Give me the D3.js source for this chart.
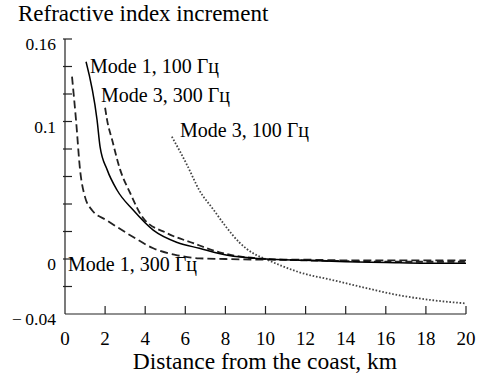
<!DOCTYPE html>
<html>
<head>
<meta charset="utf-8">
<script src="https://cdn.jsdelivr.net/npm/d3@7"></script>
<style>
  html, body { margin: 0; padding: 0; background: #fff; }
</style>
</head>
<body>
<svg id="chart" width="477" height="376"></svg>
<script>
// ---- data ----
const xTicks = [0, 2, 4, 6, 8, 10, 12, 14, 16, 18, 20];
const yTicks = [-0.04, -0.02, 0, 0.02, 0.04, 0.06, 0.08, 0.1, 0.12, 0.14, 0.16];
const yTickLabels = ["\u2212\u20090.04", "", "0", "", "", "", "", "0.1", "", "", "0.16"];

const mode1_100_x = [1.05, 1.6, 1.75, 2.1, 2.6, 3.4, 4.4, 5.6, 6.7, 8.1, 10, 12, 14, 16, 18, 20];
const mode1_100_y = [0.1435, 0.101, 0.0815, 0.065, 0.050, 0.0356, 0.021, 0.012, 0.0078, 0.0027, 0, -0.001, -0.002, -0.0025, -0.003, -0.003];

const mode3_300_x = [2.0, 2.1, 2.35, 2.75, 3.25, 3.9, 5.1, 6.4, 7.7, 10, 12, 14, 16, 18, 20];
const mode3_300_y = [0.110, 0.101, 0.0867, 0.065, 0.048, 0.0297, 0.0187, 0.0115, 0.0049, 0, -0.001, -0.0015, -0.002, -0.002, -0.002];

const mode1_300_x = [0.35, 0.55, 0.75, 1.0, 1.35, 2.1, 3.4, 4.4, 5.6, 6.7, 8, 10, 12, 14, 16, 18, 20];
const mode1_300_y = [0.1326, 0.101, 0.065, 0.045, 0.0355, 0.028, 0.016, 0.0078, 0.0027, 0.0005, 0, -0.0005, -0.0005, -0.001, -0.001, -0.001, -0.001];

const mode3_100_x = [5.33, 6.1, 6.7, 7.4, 8.0, 8.7, 9.4, 10, 11.7, 13.4, 15.1, 16.7, 18.35, 20];
const mode3_100_y = [0.089, 0.068, 0.050, 0.036, 0.024, 0.012, 0.004, 0, -0.0097, -0.0155, -0.0214, -0.0265, -0.030, -0.0323];

const seriesNames = ["Mode 1, 100 Гц", "Mode 3, 300 Гц", "Mode 3, 100 Гц", "Mode 1, 300 Гц"];
const titleText = "Refractive index increment";
const xTitleText = "Distance from the coast, km";

// ---- drawing ----
const FONT = "'Liberation Serif'";
const svg = d3.select("#chart");
const x = d3.scaleLinear().domain([0, 20]).range([65, 466]);
const y = d3.scaleLinear().domain([-0.04, 0.16]).range([314, 39]);

const axisColor = "#222";

// y axis
svg.append("line").attr("x1", x(0)).attr("x2", x(0)).attr("y1", y(0.16)).attr("y2", y(-0.04))
  .attr("stroke", axisColor).attr("stroke-width", 1.2);
svg.selectAll(".ytick").data(yTicks.filter(d => d > -0.04)).enter().append("line")
  .attr("x1", x(0) - 2).attr("x2", x(0) + 7)
  .attr("y1", d => y(d)).attr("y2", d => y(d))
  .attr("stroke", axisColor).attr("stroke-width", 1.2);
svg.selectAll(".ylab").data(yTicks.map((d, i) => ({v: d, t: yTickLabels[i]})).filter(d => d.t)).enter()
  .append("text")
  .attr("x", 56).attr("y", d => y(d.v) + 11)
  .attr("text-anchor", "end").style("font-family", FONT).attr("font-size", 17.5)
  .text(d => d.t);

// x axis
svg.append("line").attr("x1", x(0)).attr("x2", x(20)).attr("y1", y(-0.04)).attr("y2", y(-0.04))
  .attr("stroke", axisColor).attr("stroke-width", 1.2);
svg.selectAll(".xtick").data(xTicks.filter(d => d > 0)).enter().append("line")
  .attr("x1", d => x(d)).attr("x2", d => x(d))
  .attr("y1", y(-0.04)).attr("y2", y(-0.04) - 8)
  .attr("stroke", axisColor).attr("stroke-width", 1.2);
svg.selectAll(".xlab").data(xTicks).enter().append("text")
  .attr("x", d => x(d)).attr("y", 345)
  .attr("text-anchor", "middle").style("font-family", FONT).attr("font-size", 19)
  .text(d => d);

// titles
svg.append("text").attr("x", 18).attr("y", 21).style("font-family", FONT).attr("font-size", 23).text(titleText);
svg.append("text").attr("x", 265).attr("y", 369).attr("text-anchor", "middle")
  .style("font-family", FONT).attr("font-size", 23.5).text(xTitleText);

// curves
const line = d3.line().x(d => x(d[0])).y(d => y(d[1])).curve(d3.curveMonotoneX);
const zip = (a, b) => a.map((v, i) => [v, b[i]]);

const curves = [
  {pts: zip(mode1_300_x, mode1_300_y), dash: "8,4", w: 1.8, c: "#222"},
  {pts: zip(mode3_300_x, mode3_300_y), dash: "7,3.5", w: 1.8, c: "#222"},
  {pts: zip(mode3_100_x, mode3_100_y), dash: "1.6,1.8", w: 1.8, c: "#444"},
  {pts: zip(mode1_100_x, mode1_100_y), dash: null, w: 1.5, c: "#000"}
];
curves.forEach(s => {
  svg.append("path").attr("d", line(s.pts)).attr("fill", "none")
    .attr("stroke", s.c).attr("stroke-width", s.w)
    .attr("stroke-dasharray", s.dash);
});

// series labels
const labelPos = [[90, 73], [101, 102], [180, 137], [68, 271]];
seriesNames.forEach((n, i) => {
  svg.append("text").attr("x", labelPos[i][0]).attr("y", labelPos[i][1])
    .style("font-family", FONT).attr("font-size", 20).text(n);
});
</script>
</body>
</html>
